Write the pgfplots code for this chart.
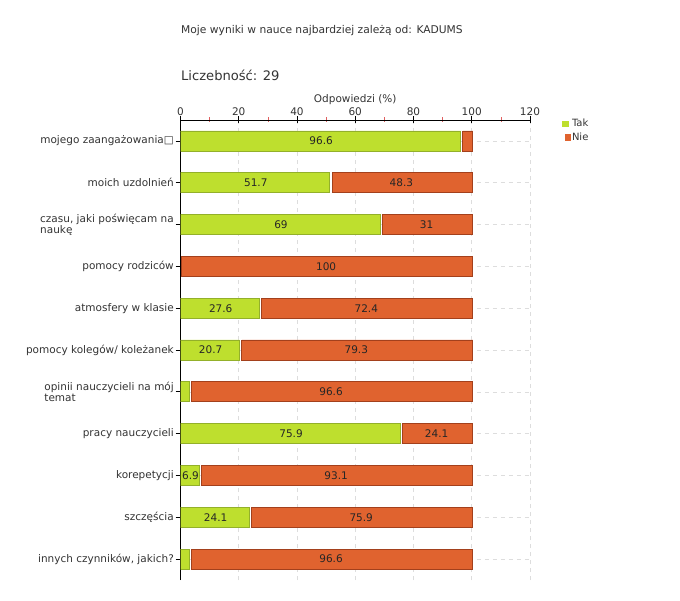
\documentclass[border=0pt]{standalone}
\usepackage{pgfplots}
\pgfplotsset{compat=1.18}
\usepackage{pgfplotstable}
\usepackage{fontspec}
\setmainfont{DejaVu Sans}
\definecolor{takfill}{HTML}{BEDF2E}
\definecolor{takdraw}{HTML}{93B02A}
\definecolor{niefill}{HTML}{E0632F}
\definecolor{niedraw}{HTML}{A3401C}
\definecolor{txt}{HTML}{333333}
\definecolor{gridc}{HTML}{DDDDDD}
\definecolor{minorc}{HTML}{E06060}

\pgfplotstableread{
y tak nie takl niel
10 96.6 3.4 96.6 {}
9 51.7 48.3 51.7 48.3
8 69 31 69 31
7 0 100 {} 100
6 27.6 72.4 27.6 72.4
5 20.7 79.3 20.7 79.3
4 3.4 96.6 {} 96.6
3 75.9 24.1 75.9 24.1
2 6.9 93.1 6.9 93.1
1 24.1 75.9 24.1 75.9
0 3.4 96.6 {} 96.6
}\datatable

\pgfplotsset{commongeom/.style={
  at={(180.5pt,20pt)}, anchor=south west,
  scale only axis, width=349.5pt, height=460pt,
  xmin=0, xmax=120, ymin=-0.5, ymax=10.5}}

\begin{document}
\begin{tikzpicture}
\path[use as bounding box] (0pt,0pt) rectangle (680pt,600pt);
\node[anchor=west, inner sep=0pt, text=txt, font=\fontsize{10.7}{12}\selectfont] at (181pt,569pt) {Moje wyniki w nauce najbardziej zależą od: KADUMS};
\node[anchor=west, inner sep=0pt, text=txt, font=\fontsize{13.1}{15}\selectfont] at (181pt,525pt) {Liczebność: 29};
\begin{axis}[
  commongeom,
  xbar stacked, bar width=20pt,
  axis x line*=top, axis y line*=left,
  axis line style={-, black, line width=0.8pt},
  xtick={0,20,...,120}, minor x tick num=1,
  ytick={0,...,10},
  yticklabels={{innych czynników, jakich?}, {szczęścia}, {korepetycji}, {pracy nauczycieli}, {opinii nauczycieli na mój\\temat}, {pomocy kolegów/ koleżanek}, {atmosfery w klasie}, {pomocy rodziców}, {czasu, jaki poświęcam na\\naukę}, {moich uzdolnień}, {mojego zaangażowania□}},
  tick align=center, major tick length=7pt, minor tick length=5pt,
  major tick style={black, line width=0.7pt},
  minor tick style={minorc, line width=0.7pt},
  ytick style={xshift=-1.5pt},
  xmajorgrids, ymajorgrids,
  grid style={gridc, dash pattern=on 4pt off 4pt, line width=0.6pt},
  /pgf/number format/assume math mode=true,
  tick label style={text=txt, font=\fontsize{10.5}{11}\selectfont},
  yticklabel style={align=left, inner sep=3pt},
  xticklabel style={inner sep=1pt},
  xlabel={Odpowiedzi (\%)},
  xlabel style={text=txt, font=\fontsize{10.5}{12}\selectfont, inner sep=1pt},
  legend style={at={(1,1)}, anchor=north west, xshift=32pt, yshift=2pt, draw=none, fill=none,
    font=\fontsize{10}{11}\selectfont, text=txt, row sep=2.5pt, inner sep=0pt,
    nodes={inner sep=1pt}},
  legend cell align=left,
]
\addplot[fill=takfill, draw=takdraw, line width=0.8pt, xshift=-1.5pt,
  legend image code/.code={\fill[takfill] (0pt,-2.7pt) rectangle (5.5pt,2.7pt);}]
  table[x=tak, y=y] {\datatable};
\addlegendentry{Tak}
\addplot[fill=niefill, draw=niedraw, line width=0.8pt, xshift=1pt,
  legend image code/.code={\fill[niefill] (0pt,-2.7pt) rectangle (5.5pt,2.7pt);}]
  table[x=nie, y=y] {\datatable};
\addlegendentry{Nie}
\end{axis}
\begin{axis}[
  commongeom, hide axis, clip=false,
  point meta=explicit symbolic,
  nodes near coords,
  every node near coord/.append style={anchor=center, inner sep=0pt,
    font=\fontsize{10.5}{12}\selectfont, text=black!85},
]
\addplot[draw=none, mark=none, nodes near coords]
  table[x expr=\thisrow{tak}/2, y=y, meta=takl] {\datatable};
\addplot[draw=none, mark=none, nodes near coords]
  table[x expr=\thisrow{tak}+\thisrow{nie}/2, y=y, meta=niel] {\datatable};
\end{axis}
\end{tikzpicture}
\end{document}
